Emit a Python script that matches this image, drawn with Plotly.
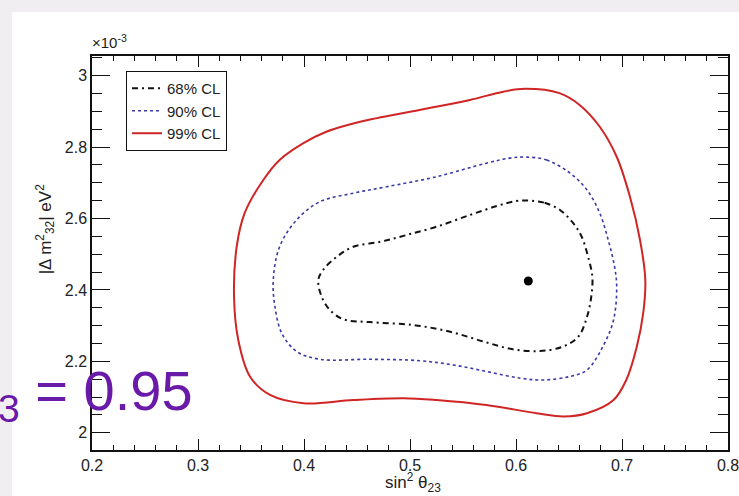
"""Allowed region plot: sin^2 theta23 vs |dm2_32| with 68/90/99% CL contours."""

import plotly.graph_objects as go

# contour points (x = sin^2 theta23, y = |dm2_32| in 1e-3 eV^2)
cl68_x = [0.613, 0.627, 0.6415, 0.654, 0.662, 0.668, 0.672, 0.671, 0.667, 0.659, 0.6446,
          0.6226, 0.597, 0.569, 0.538, 0.503, 0.462, 0.437, 0.4245, 0.4167, 0.4135, 0.418,
          0.431, 0.4465, 0.472, 0.497, 0.525, 0.5566, 0.582, 0.600, 0.613]
cl68_y = [2.650, 2.644, 2.624, 2.587, 2.549, 2.493, 2.437, 2.381, 2.325, 2.270, 2.242,
          2.229, 2.234, 2.256, 2.283, 2.302, 2.310, 2.318, 2.344, 2.381, 2.428, 2.456,
          2.493, 2.521, 2.535, 2.554, 2.577, 2.610, 2.635, 2.649, 2.650]

cl90_x = [0.6085, 0.629, 0.651, 0.667, 0.679, 0.687, 0.693, 0.695, 0.692, 0.682, 0.667,
          0.651, 0.626, 0.604, 0.572, 0.541, 0.509, 0.462, 0.415, 0.393, 0.379, 0.3726,
          0.371, 0.377, 0.393, 0.415, 0.4465, 0.478, 0.525, 0.572, 0.594, 0.6085]
cl90_y = [2.772, 2.764, 2.727, 2.680, 2.615, 2.540, 2.465, 2.409, 2.316, 2.242, 2.176,
          2.158, 2.148, 2.153, 2.172, 2.190, 2.202, 2.206, 2.206, 2.228, 2.279, 2.353,
          2.428, 2.521, 2.596, 2.647, 2.671, 2.689, 2.717, 2.755, 2.769, 2.772]

cl99_x = [0.6085, 0.641, 0.660, 0.679, 0.695, 0.7075, 0.717, 0.722, 0.720, 0.714, 0.704,
          0.692, 0.667, 0.645, 0.6195, 0.572, 0.525, 0.494, 0.4465, 0.3995, 0.368, 0.349,
          0.338, 0.334, 0.3365, 0.344, 0.3616, 0.377, 0.3995, 0.421, 0.453, 0.509, 0.5566,
          0.588, 0.6085]
cl99_y = [2.963, 2.951, 2.918, 2.857, 2.773, 2.661, 2.540, 2.428, 2.335, 2.242, 2.148,
          2.092, 2.055, 2.046, 2.055, 2.078, 2.092, 2.097, 2.092, 2.083, 2.106, 2.158,
          2.260, 2.381, 2.521, 2.615, 2.708, 2.764, 2.811, 2.843, 2.871, 2.904, 2.932,
          2.955, 2.963]

best_x = [0.6116]
best_y = [2.425]

y_ticks = [2, 2.2, 2.4, 2.6, 2.8, 3]
y_ticktext = ["2", "2.2", "2.4", "2.6", "2.8", "3"]

FONT = "Liberation Sans, Arial, sans-serif"
INK = "#222222"

fig = go.Figure()

fig.add_trace(go.Scatter(
    x=cl68_x, y=cl68_y, mode="lines", name="68% CL",
    line=dict(color="#111111", width=2, dash="6px,4px,2px,4px", shape="spline"),
))
fig.add_trace(go.Scatter(
    x=cl90_x, y=cl90_y, mode="lines", name="90% CL",
    line=dict(color="#3a3aa8", width=1.6, dash="dot", shape="spline"),
))
fig.add_trace(go.Scatter(
    x=cl99_x, y=cl99_y, mode="lines", name="99% CL",
    line=dict(color="#d02525", width=2, shape="spline"),
))
fig.add_trace(go.Scatter(
    x=best_x, y=best_y, mode="markers", showlegend=False,
    marker=dict(color="black", size=9),
))

axis_common = dict(
    showline=True, linecolor="#111111", linewidth=1.5, mirror="allticks",
    ticks="inside", tickcolor="#111111", showgrid=False, zeroline=False,
    automargin=False, ticklabeloverflow="allow",
    tickfont=dict(family=FONT, size=16, color=INK),
)

fig.update_xaxes(
    range=[0.2, 0.8], dtick=0.1, tick0=0.2, ticklen=11, tickwidth=1.2,
    minor=dict(dtick=0.02, ticklen=5, ticks="inside", tickcolor="#111111", showgrid=False),
    **axis_common,
)
fig.update_yaxes(
    range=[1.952, 3.055], tickvals=y_ticks, ticktext=y_ticktext, ticklen=18, tickwidth=1.2,
    minor=dict(dtick=0.05, tick0=2, ticklen=10, ticks="inside", tickcolor="#111111",
               showgrid=False),
    **axis_common,
)

fig.update_layout(
    width=739, height=496, autosize=False,
    margin=dict(l=92, r=11, t=56, b=46),
    paper_bgcolor="#f1eef1",
    plot_bgcolor="white",
    font=dict(family=FONT, color=INK),
    showlegend=True,
    legend=dict(
        x=0.0535, y=0.962, xanchor="left", yanchor="top",
        bgcolor="white", bordercolor="#111111", borderwidth=1,
        font=dict(family=FONT, size=15, color=INK),
        itemwidth=30, tracegroupgap=0,
    ),
    shapes=[dict(type="rect", xref="paper", yref="paper", layer="below",
                 x0=-80 / 636, x1=1.02, y0=-0.2, y1=1 + 44 / 394,
                 fillcolor="white", line=dict(width=0))],
)

annotations = [
    dict(text="×10<sup>-3</sup>", x=-2 / 636, y=1 + 3 / 394, xanchor="left", yanchor="bottom",
         font=dict(family=FONT, size=15, color=INK)),
    dict(text="|Δ m<sup>2</sup><sub>32</sub>| eV<sup>2</sup>", x=-47 / 636, y=0.56,
         textangle=-90, xanchor="center", yanchor="middle",
         font=dict(family=FONT, size=17, color=INK)),
    dict(text="sin<sup>2</sup> θ<sub>23</sub>", x=0.505, y=-32 / 394,
         xanchor="center", yanchor="middle",
         font=dict(family=FONT, size=17, color=INK)),
    dict(text="<sub>3</sub> = 0.95", x=-96 / 636, y=(450 - 394) / 394,
         xanchor="left", yanchor="middle",
         font=dict(family=FONT, size=56, color="#6a1aa8")),
]
for a in annotations:
    a.update(xref="paper", yref="paper", showarrow=False)
fig.update_layout(annotations=annotations)

# drop the browser's default body margin and scrollbars so the figure fills the window
fig.write_html(
    "out.html",
    config={"displayModeBar": False, "responsive": False},
    post_script=(
        "document.body.style.margin='0';"
        "document.body.style.overflow='hidden';"
        "document.documentElement.style.overflow='hidden';"
    ),
)
